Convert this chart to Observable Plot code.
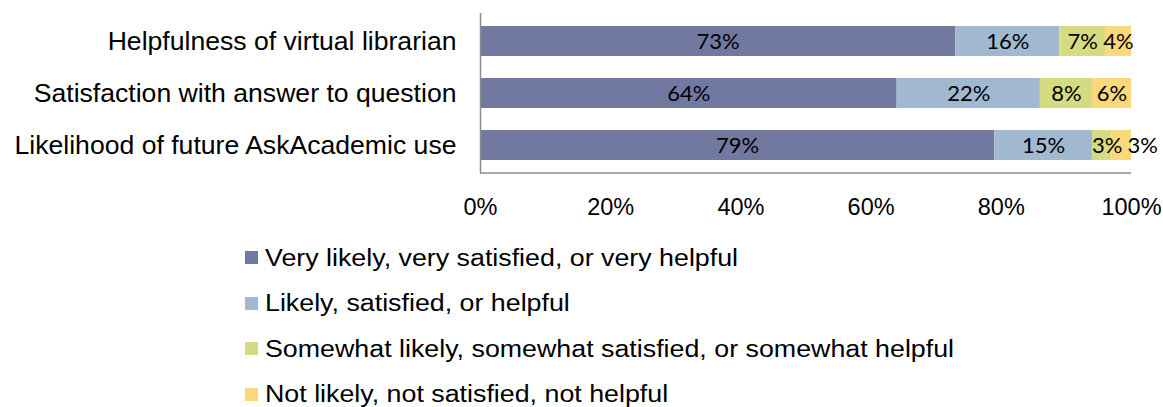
<!DOCTYPE html>
<html>
<head>
<meta charset="utf-8">
<script src="https://cdn.jsdelivr.net/npm/d3@7"></script>
<script src="https://cdn.jsdelivr.net/npm/@observablehq/plot@0.6"></script>
<style>
  body { margin: 0; background: #fff; font-family: "Liberation Sans", Arial, sans-serif; overflow: hidden; }
  #legend { margin-left: 245px; padding-top: 3px; }
  .item { height: 45.5px; display: flex; align-items: center; font-size: 23px; line-height: 24px; color: #000; white-space: nowrap; }
  .sw { width: 13px; height: 13px; margin-right: 7px; flex: none; }
  .item span { display: inline-block; transform: scaleX(1.165); transform-origin: left center; }
</style>
</head>
<body>
<div id="chart"></div>
<div id="legend"></div>
<script>
const categories = ["Helpfulness of virtual librarian", "Satisfaction with answer to question", "Likelihood of future AskAcademic use"];
const seriesNames = ["Very likely, very satisfied, or very helpful", "Likely, satisfied, or helpful", "Somewhat likely, somewhat satisfied, or somewhat helpful", "Not likely, not satisfied, not helpful"];
const seriesColors = ["#7179A0", "#A1B9D0", "#D5DB82", "#FBD87C"];
const veryValues = [73, 64, 79];
const likelyValues = [16, 22, 15];
const somewhatValues = [7, 8, 3];
const notValues = [4, 6, 3];
const xTicks = [0, 0.2, 0.4, 0.6, 0.8, 1];

const seriesValues = [veryValues, likelyValues, somewhatValues, notValues];
const rows = [];
categories.forEach((c, i) => {
  let start = 0;
  seriesValues.forEach((vals, s) => {
    const v = vals[i] / 100;
    rows.push({cat: c, series: seriesNames[s], value: v, x1: start, x2: start + v, label: vals[i] + "%", si: s, ci: i});
    start += v;
  });
});
// labels that Excel nudged to avoid overlapping in narrow segments
const crowded = rows.filter(d => d.ci === 2 && d.si >= 2);
const normal = rows.filter(d => !(d.ci === 2 && d.si >= 2));
const labelFont = {fill: "#000", fontSize: 22, fontFamily: "Lato, 'Open Sans', sans-serif"};
const mid = d => (d.x1 + d.x2) / 2;

const W = 1163, H = 232, mL = 480, mR = 32, mT = 13, mB = 59;
const plot = Plot.plot({
  width: W, height: H,
  marginLeft: mL, marginRight: mR, marginTop: mT, marginBottom: mB,
  style: {fontFamily: "'Liberation Sans', Arial, sans-serif", fontSize: "22px", color: "#000", background: "#fff", overflow: "visible"},
  x: {domain: [0, 1], ticks: xTicks, tickFormat: d => Math.round(d * 100) + "%", label: null},
  y: {domain: categories, paddingInner: 0.42, paddingOuter: 0.22, label: null},
  color: {domain: seriesNames, range: seriesColors},
  marks: [
    Plot.barX(rows, {y: "cat", x1: "x1", x2: "x2", fill: "series"}),
    Plot.text(normal, {y: "cat", x: mid, text: "label", ...labelFont}),
    Plot.text(crowded.filter(d => d.si === 2), {y: "cat", x: mid, text: "label", dx: 5, ...labelFont}),
    Plot.text(crowded.filter(d => d.si === 3), {y: "cat", x: mid, text: "label", dx: 21, ...labelFont}),
    Plot.ruleX([0], {stroke: "#8c8c8c", strokeWidth: 1.5}),
    Plot.axisX({anchor: "bottom", ticks: xTicks, tickSize: 0, tickPadding: 25, tickFormat: d => Math.round(d * 100) + "%", label: null, fontSize: 23.5}),
    Plot.axisY({anchor: "left", tickSize: 0, tickPadding: 24, label: null, fontSize: 26.6})
  ]
});
const xs = plot.scale("x");
d3.select(plot).append("line")
  .attr("x1", xs.apply(0)).attr("x2", xs.apply(1))
  .attr("y1", H - mB).attr("y2", H - mB)
  .attr("stroke", "#8c8c8c").attr("stroke-width", 1.5);
document.getElementById("chart").appendChild(plot);

const legend = d3.select("#legend");
seriesNames.forEach((n, i) => {
  const it = legend.append("div").attr("class", "item");
  it.append("div").attr("class", "sw").style("background", seriesColors[i]);
  it.append("span").text(n);
});
</script>
</body>
</html>
